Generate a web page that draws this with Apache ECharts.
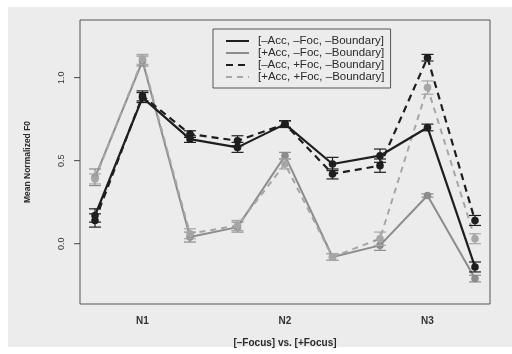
<!DOCTYPE html>
<html>
<head>
<meta charset="utf-8">
<script src="https://cdn.jsdelivr.net/npm/echarts@6/dist/echarts.min.js"></script>
<style>html,body{margin:0;padding:0;background:#fff}#c{width:512px;height:354px}</style>
</head>
<body>
<div id="c"></div>
<script>
// Positions along x (9 syllables), tick labels at positions 1,4,7
const xPositions = [0, 1, 2, 3, 4, 5, 6, 7, 8];
const xTickPositions = [1, 4, 7];
const xTickLabels = ['N1', 'N2', 'N3'];
const yTickValues = [0.0, 0.5, 1.0];

const seriesNames = [
  '[–Acc, –Foc, –Boundary]',
  '[+Acc, –Foc, –Boundary]',
  '[–Acc, +Foc, –Boundary]',
  '[+Acc, +Foc, –Boundary]'
];

// Mean normalized F0 values
const accNegFocNeg = [0.17, 0.88, 0.63, 0.58, 0.72, 0.48, 0.53, 0.70, -0.14];
const accPosFocNeg = [0.40, 1.10, 0.04, 0.10, 0.53, -0.08, -0.01, 0.29, -0.21];
const accNegFocPos = [0.14, 0.89, 0.66, 0.62, 0.72, 0.42, 0.47, 1.12, 0.14];
const accPosFocPos = [0.39, 1.11, 0.06, 0.11, 0.48, -0.08, 0.03, 0.94, 0.03];

// Error bar half-widths
const errNegNeg = [0.04, 0.03, 0.02, 0.03, 0.02, 0.04, 0.04, 0.02, 0.03];
const errPosNeg = [0.05, 0.03, 0.03, 0.03, 0.02, 0.02, 0.03, 0.01, 0.02];
const errNegPos = [0.04, 0.03, 0.02, 0.03, 0.02, 0.03, 0.04, 0.02, 0.03];
const errPosPos = [0.03, 0.03, 0.03, 0.03, 0.03, 0.02, 0.04, 0.04, 0.03];

const X_MIN = -0.316, X_MAX = 8.316;
const BLACK = '#1e1e1e';
const GREY = '#8c8c8c';
const LGREY = '#a6a6a6';

const defs = [
  {name: seriesNames[1], vals: accPosFocNeg, errs: errPosNeg, color: GREY, type: 'solid', z: 2},
  {name: seriesNames[3], vals: accPosFocPos, errs: errPosPos, color: LGREY, type: [6, 5], z: 3},
  {name: seriesNames[2], vals: accNegFocPos, errs: errNegPos, color: BLACK, type: [7, 5], z: 4},
  {name: seriesNames[0], vals: accNegFocNeg, errs: errNegNeg, color: BLACK, type: 'solid', z: 5}
];

const series = [];
defs.forEach(d => {
  series.push({
    name: d.name, type: 'line', symbol: 'none', z: d.z,
    lineStyle: {color: d.color, width: d.color === BLACK ? 2.2 : 2, type: d.type},
    itemStyle: {color: d.color},
    data: xPositions.map((x, i) => [x, d.vals[i]])
  });
  series.push({
    name: d.name + ' err', type: 'custom', z: d.z + 10,
    data: xPositions.map((x, i) => [x, d.vals[i], d.errs[i]]),
    renderItem: function (params, api) {
      const x = api.value(0), v = api.value(1), e = api.value(2);
      const pc = api.coord([x, v]);
      const pt = api.coord([x, v + e]);
      const pb = api.coord([x, v - e]);
      const hw = 6;
      const st = {stroke: d.color, lineWidth: 1.2};
      return {type: 'group', children: [
        {type: 'line', shape: {x1: pc[0], y1: pt[1], x2: pc[0], y2: pb[1]}, style: st},
        {type: 'line', shape: {x1: pc[0] - hw, y1: pt[1], x2: pc[0] + hw, y2: pt[1]}, style: st},
        {type: 'line', shape: {x1: pc[0] - hw, y1: pb[1], x2: pc[0] + hw, y2: pb[1]}, style: st},
        {type: 'circle', shape: {cx: pc[0], cy: pc[1], r: 3.8}, style: {fill: d.color}}
      ]};
    }
  });
});

// y-axis tick marks (R style, outside the box)
series.push({
  name: 'yticks', type: 'custom', z: 30, clip: false, silent: true,
  data: yTickValues.map(v => [X_MIN, v]),
  renderItem: function (params, api) {
    const p = api.coord([api.value(0), api.value(1)]);
    return {type: 'line', shape: {x1: p[0] - 6, y1: p[1], x2: p[0], y2: p[1]}, style: {stroke: '#444', lineWidth: 1}};
  }
});

const chart = echarts.init(document.getElementById('c'), null, {renderer: 'canvas'});
chart.setOption({
  animation: false,
  backgroundColor: '#ffffff',
  graphic: [{type: 'rect', z: -10, silent: true, shape: {x: 8, y: 7, width: 504, height: 340}, style: {fill: '#ececec'}}],
  textStyle: {fontFamily: 'Liberation Sans, Arial, sans-serif'},
  grid: {left: 80, right: 22, top: 20, bottom: 50, show: true, borderColor: '#555', borderWidth: 1, backgroundColor: 'transparent'},
  legend: {
    data: seriesNames, orient: 'vertical', left: 213, top: 29,
    borderColor: '#555', borderWidth: 1, padding: [6, 6, 5, 12],
    itemWidth: 23, itemHeight: 8, itemGap: 0,
    itemStyle: {opacity: 0},
    lineStyle: {opacity: 1},
    textStyle: {fontSize: 11.5, lineHeight: 11, height: 11, color: '#2a2a2a', padding: [0, 0, 0, 4]}
  },
  xAxis: {
    type: 'value', min: X_MIN, max: X_MAX,
    splitLine: {show: false}, axisLine: {show: false}, axisTick: {show: false},
    axisLabel: {customValues: xTickPositions, margin: 12, fontSize: 10, color: '#333', fontWeight: 'bold',
      formatter: v => xTickLabels[xTickPositions.indexOf(Math.round(v))] || ''},
    name: '[–Focus] vs. [+Focus]', nameLocation: 'middle', nameGap: 34,
    nameTextStyle: {fontSize: 10, fontWeight: 'bold', color: '#2a2a2a'}
  },
  yAxis: {
    type: 'value', min: -0.363, max: 1.347,
    splitLine: {show: false},
    axisLine: {show: false, onZero: false},
    axisTick: {show: false},
    axisLabel: {customValues: yTickValues, rotate: 90, margin: 14, fontSize: 9, color: '#333',
      formatter: v => v.toFixed(1)},
    name: 'Mean Normalized F0', nameLocation: 'middle', nameGap: 48,
    nameTextStyle: {fontSize: 8.5, fontWeight: 'bold', color: '#2a2a2a'}
  },
  series: series
});
</script>
</body>
</html>
